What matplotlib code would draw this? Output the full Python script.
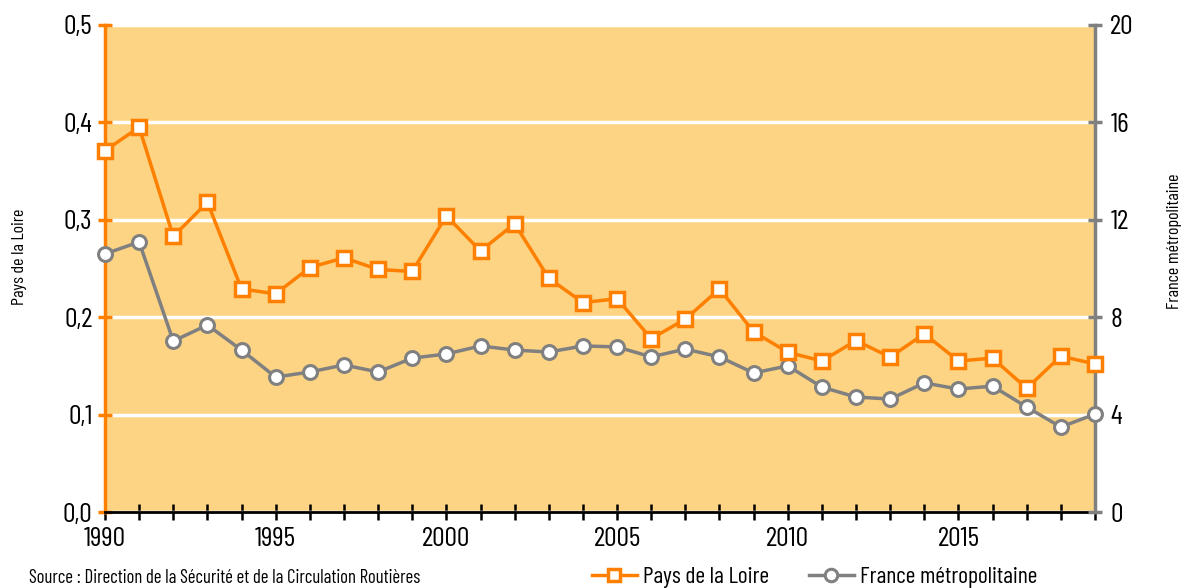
import matplotlib
matplotlib.use("Agg")
import matplotlib.pyplot as plt
from matplotlib.ticker import FuncFormatter, MultipleLocator
from matplotlib.lines import Line2D

plt.rcParams['font.family'] = ['Barlow Condensed', 'Roboto Condensed', 'DejaVu Sans']

years = list(range(1990, 2020))
pays_de_la_loire = [0.371, 0.395, 0.283, 0.318, 0.229, 0.224, 0.251, 0.261, 0.249, 0.247,
                    0.304, 0.268, 0.296, 0.240, 0.215, 0.219, 0.178, 0.198, 0.229, 0.185,
                    0.164, 0.155, 0.176, 0.159, 0.183, 0.155, 0.158, 0.127, 0.160, 0.152]
france_metro = [10.6, 11.09, 7.02, 7.68, 6.65, 5.54, 5.75, 6.04, 5.75, 6.32,
                6.49, 6.82, 6.65, 6.57, 6.82, 6.78, 6.37, 6.69, 6.37, 5.71,
                6.0, 5.13, 4.72, 4.64, 5.30, 5.05, 5.17, 4.31, 3.49, 4.02]
x_tick_labels = [1990, 1995, 2000, 2005, 2010, 2015]

ORANGE = '#FF8000'
GREY = '#808080'
BG = '#FDD483'

fig = plt.figure(figsize=(11.84, 5.88), dpi=100)
ax = fig.add_axes([105/1184, 1 - 512/588, 990/1184, 487/588])
ax2 = ax.twinx()

ax.set_facecolor(BG)
ax.set_xlim(1990, 2019)
ax.set_ylim(0, 0.5)
ax2.set_ylim(0, 20)

ax.yaxis.set_major_locator(MultipleLocator(0.1))
ax.grid(axis='y', color='white', linewidth=2.5)
ax.set_axisbelow(True)

ax.set_zorder(0)
ax2.set_zorder(1)
ax2.patch.set_visible(False)

ax2.plot(years, france_metro, color=GREY, linewidth=2.5, marker='o',
         markersize=10, markerfacecolor='white', markeredgecolor=GREY,
         markeredgewidth=2.2, zorder=4, clip_on=False)
ax2.plot(years, pays_de_la_loire, transform=ax.transData, color=ORANGE, linewidth=2.5,
         marker='s', markersize=10, markerfacecolor='white', markeredgecolor=ORANGE,
         markeredgewidth=2.5, zorder=6, clip_on=False)

for a in (ax, ax2):
    a.spines['top'].set_visible(False)
ax.spines['left'].set_color(ORANGE)
ax.spines['left'].set_linewidth(2.5)
ax.spines['right'].set_visible(False)
ax2.spines['left'].set_visible(False)
ax2.spines['right'].set_color(GREY)
ax2.spines['right'].set_linewidth(2.5)
ax.spines['bottom'].set_color('black')
ax.spines['bottom'].set_linewidth(2)
ax2.spines['bottom'].set_visible(False)

ax.yaxis.set_major_formatter(FuncFormatter(lambda v, p: f"{v:.1f}".replace('.', ',')))
ax.tick_params(axis='y', colors=ORANGE, direction='inout', length=10, width=2.5,
               labelsize=20, labelcolor='black', pad=4)
ax2.yaxis.set_major_locator(MultipleLocator(4))
ax2.tick_params(axis='y', colors=GREY, direction='inout', length=10, width=2.5,
                labelsize=20, labelcolor='black', pad=6)
ax.set_xticks(years)
ax.set_xticklabels([str(y) if y in x_tick_labels else '' for y in years])
ax.tick_params(axis='x', colors='black', direction='inout', length=12, width=1.8,
               labelsize=20, pad=5)

ax.set_ylabel('Pays de la Loire', fontsize=13)
ax2.set_ylabel('France métropolitaine', fontsize=13)
ax.yaxis.set_label_coords(-78/990, (512 - 257) / 487)
ax2.yaxis.set_label_coords(1 + 72/990, (512 - 241) / 487)

fig.text(29/1184, 1 - 578/588, 'Source : Direction de la Sécurité et de la Circulation Routières',
         fontsize=13.5, va='center', ha='left')

h1 = Line2D([], [], color=ORANGE, linewidth=2.5, marker='s', markersize=9,
            markerfacecolor='white', markeredgecolor=ORANGE, markeredgewidth=2.5)
h2 = Line2D([], [], color=GREY, linewidth=2.5, marker='o', markersize=9,
            markerfacecolor='white', markeredgecolor=GREY, markeredgewidth=2.2)
fig.legend([h1, h2], ['Pays de la Loire', 'France métropolitaine'], loc='center left',
           bbox_to_anchor=(592/1184, 1 - 577/588), ncol=2, frameon=False, fontsize=17,
           handlelength=1.9, handletextpad=0.25, columnspacing=1.7, borderpad=0,
           borderaxespad=0)

fig.savefig('out.png', dpi=100, facecolor='white')
